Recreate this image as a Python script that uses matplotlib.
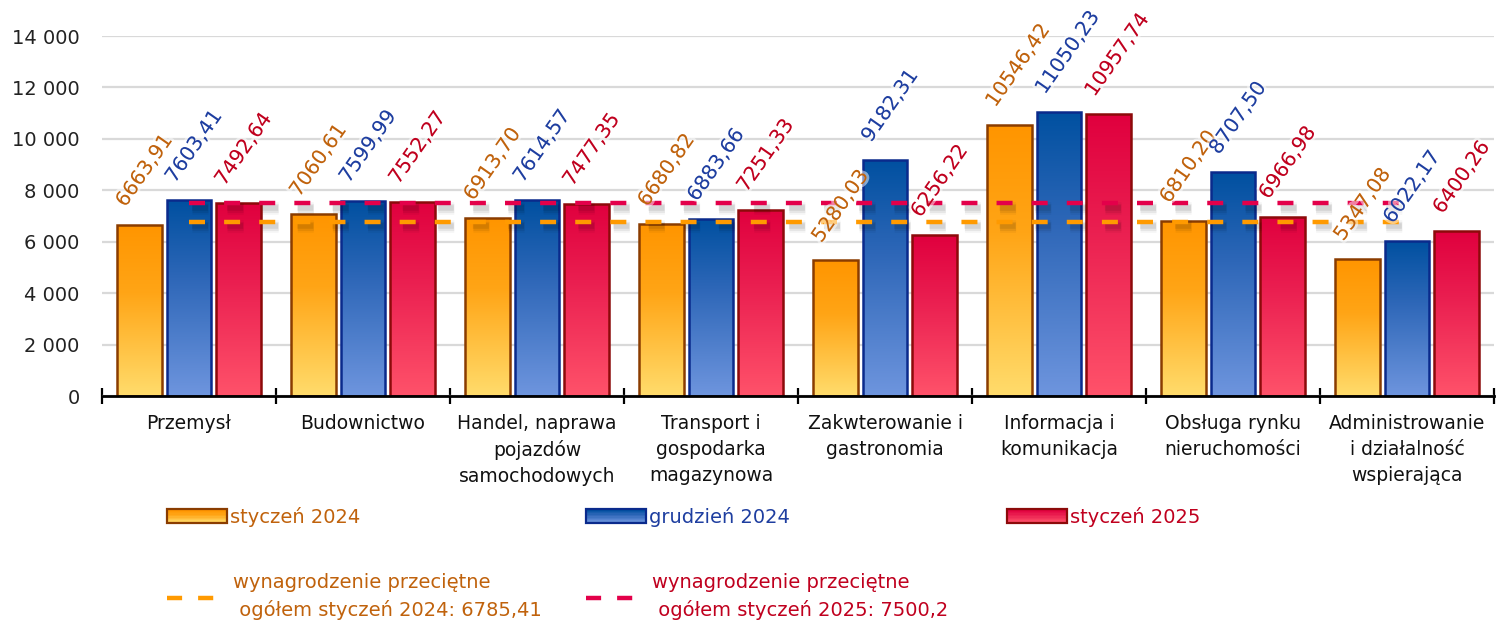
import matplotlib
matplotlib.use("Agg")
import matplotlib.pyplot as plt
import matplotlib.patheffects as pe
import numpy as np
from matplotlib.colors import LinearSegmentedColormap
from matplotlib.legend_handler import HandlerBase
from matplotlib.lines import Line2D
from matplotlib.patches import Patch, Rectangle

categories = [
    "Przemysł",
    "Budownictwo",
    "Handel, naprawa\npojazdów\nsamochodowych",
    "Transport i\ngospodarka\nmagazynowa",
    "Zakwterowanie i\ngastronomia",
    "Informacja i\nkomunikacja",
    "Obsługa rynku\nnieruchomości",
    "Administrowanie\ni działalność\nwspierająca",
]
series_names = ["styczeń 2024", "grudzień 2024", "styczeń 2025"]
jan_2024 = [6663.91, 7060.61, 6913.70, 6680.82, 5280.03, 10546.42, 6810.20, 5347.08]
dec_2024 = [7603.41, 7599.99, 7614.57, 6883.66, 9182.31, 11050.23, 8707.50, 6022.17]
jan_2025 = [7492.64, 7552.27, 7477.35, 7251.33, 6256.22, 10957.74, 6966.98, 6400.26]
avg_2024 = 6785.41
avg_2025 = 7500.2
avg_labels = [
    "wynagrodzenie przeciętne\n ogółem styczeń 2024: 6785,41",
    "wynagrodzenie przeciętne\n ogółem styczeń 2025: 7500,2",
]
y_ticks = [0, 2000, 4000, 6000, 8000, 10000, 12000, 14000]

# styles: (gradient bottom, mid, top), edge, text colour
styles = [
    (["#FFDC6C", "#FFA516", "#FF9500"], "#8A3C00", "#C0620C"),
    (["#6E95DE", "#2E67B8", "#0050A0"], "#0A2A8C", "#1E3EA0"),
    (["#FF526A", "#EA1E50", "#E0003E"], "#8C0A0A", "#C0001E"),
]
line_colors = ["#FF9A00", "#E3004A"]
line_text_colors = ["#C0620C", "#C0001E"]

plt.rcParams["font.family"] = ["DejaVu Sans"]

fig = plt.figure(figsize=(15.04, 6.25), dpi=100)
ax = fig.add_axes([102 / 1504, 1 - 396 / 625, (1494 - 102) / 1504, 360 / 625])

x = np.arange(len(categories))
offset, width = 0.285, 0.255
grad = np.linspace(0, 1, 256).reshape(-1, 1)
glow = [pe.withStroke(linewidth=4, foreground="white", alpha=0.5)]

for i, (vals, (cols, edge, tcol)) in enumerate(zip([jan_2024, dec_2024, jan_2025], styles)):
    cmap = LinearSegmentedColormap.from_list(f"g{i}", [(0, cols[0]), (0.6, cols[1]), (1, cols[2])])
    bars = ax.bar(x + (i - 1) * offset, vals, width, facecolor="none",
                  edgecolor=edge, linewidth=1.8, zorder=3)
    for b, v in zip(bars, vals):
        x0, h = b.get_x(), b.get_height()
        im = ax.imshow(grad, cmap=cmap, origin="lower", aspect="auto",
                       extent=[x0, x0 + b.get_width(), 0, h], zorder=2)
        im.set_clip_path(b)
        ax.text(x0 + 0.065, h + 560, f"{v:.2f}".replace(".", ","), rotation=55,
                rotation_mode="anchor", ha="left", va="bottom", color=tcol,
                fontsize=14.5, zorder=6, clip_on=False, path_effects=glow)

shadow = [pe.SimpleLineShadow(offset=(2, -3.5), shadow_color="k", alpha=a, linewidth=lw)
          for a, lw in [(0.04, 9), (0.06, 6.5), (0.08, 4)]] + [pe.Normal()]
for avg, lc in zip([avg_2024, avg_2025], line_colors):
    ax.hlines(avg, x[0], x[-1], colors=lc, linewidth=3.2, linestyles=(0, (3.6, 4.3)),
              zorder=5, path_effects=shadow)

ax.set_xlim(-0.5, len(categories) - 0.5)
ax.set_ylim(0, 14000)
ax.set_yticks(y_ticks, [f"{v:,}".replace(",", " ") for v in y_ticks])
ax.tick_params(axis="y", length=0, pad=16, labelsize=14, labelcolor="#222222")
ax.set_xticks(x, categories)
ax.set_xticks(np.arange(-0.5, len(categories)), minor=True)
ax.tick_params(axis="x", which="major", length=0, pad=13, labelsize=13.5, labelcolor="#111111")
ax.tick_params(axis="x", which="minor", length=11, width=1.6, direction="inout", color="black")
for lab in ax.get_xticklabels():
    lab.set_linespacing(1.45)
ax.grid(axis="y", color="#D9D9D9", linewidth=1.6, zorder=0)
ax.set_axisbelow(True)
for s in ["left", "right", "top"]:
    ax.spines[s].set_visible(False)
ax.spines["bottom"].set_linewidth(2)
ax.spines["bottom"].set_zorder(7)


class GradientHandler(HandlerBase):
    def __init__(self, cols, edge):
        super().__init__()
        self.cols, self.edge = cols, edge

    def create_artists(self, legend, orig, xd, yd, w, h, fontsize, trans):
        cmap = LinearSegmentedColormap.from_list("lg", [(0, self.cols[0]), (0.6, self.cols[1]), (1, self.cols[2])])
        n = 10
        arts = []
        for k in range(n):
            arts.append(Rectangle((-xd, -yd + h * k / n), w, h / n + 0.2, facecolor=cmap(k / (n - 1)),
                                  edgecolor="none", transform=trans))
        arts.append(Rectangle((-xd, -yd), w, h, facecolor="none", edgecolor=self.edge,
                              linewidth=1.6, transform=trans))
        return arts


legend_x = [167, 586, 1007]
for name, (cols, edge, tcol), lx in zip(series_names, styles, legend_x):
    h = Patch(label=name)
    leg = fig.legend(handles=[h], loc="center left", bbox_to_anchor=(lx / 1504, 1 - 517 / 625),
                     frameon=False, fontsize=14, handlelength=3.1, handleheight=0.75,
                     handletextpad=0.15, borderpad=0, borderaxespad=0,
                     handler_map={h: GradientHandler(cols, edge)})
    for t in leg.get_texts():
        t.set_color(tcol)

legend2_x = [167, 586]
for lab, lc, tcol, lx in zip(avg_labels, line_colors, line_text_colors, legend2_x):
    h = Line2D([], [], color=lc, linewidth=3.2, linestyle=(0, (3.4, 3.6)), label=lab)
    leg = fig.legend(handles=[h], loc="center left", bbox_to_anchor=(lx / 1504, 1 - 597 / 625),
                     frameon=False, fontsize=14, handlelength=2.5, handletextpad=0.9,
                     borderpad=0, borderaxespad=0)
    for t in leg.get_texts():
        t.set_color(tcol)
        t.set_linespacing(1.5)

fig.savefig("out.png", dpi=100)
